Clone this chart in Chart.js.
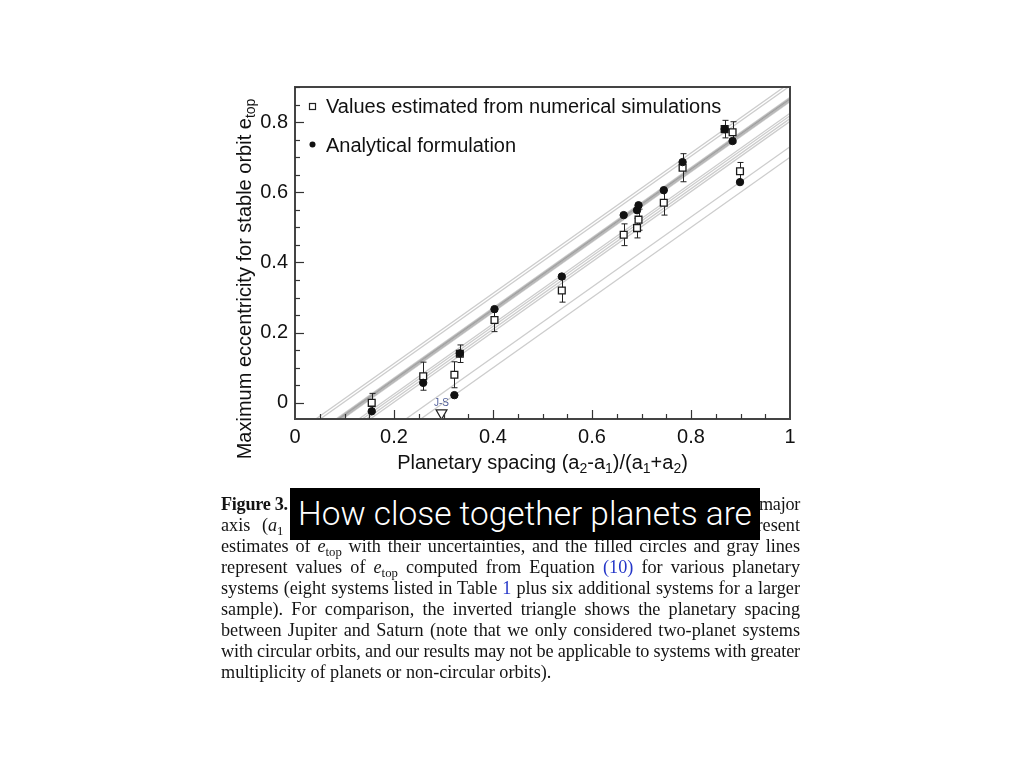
<!DOCTYPE html>
<html><head><meta charset="utf-8">
<script src="https://cdn.jsdelivr.net/npm/chart.js@4.4.1/dist/chart.umd.min.js"></script>
<style>
html,body{margin:0;padding:0;background:#fff;width:1024px;height:768px;overflow:hidden;}
#c{position:absolute;left:0;top:0;}
#cap{position:absolute;left:221px;top:494px;width:579px;font-family:'Liberation Serif','Times New Roman',serif;font-size:18.2px;line-height:21px;color:#141414;}
.ln{white-space:nowrap;display:block;height:21px;}
.ln span.t{display:inline-block;white-space:nowrap;}
.blue{color:#2436c8;}
sub{font-size:0.7em;vertical-align:-0.28em;line-height:0;}
#box{position:absolute;left:290px;top:488px;width:470px;height:52px;background:#000;color:#fff;font-family:Roboto,'Open Sans','Liberation Sans',sans-serif;font-weight:300;font-size:32px;line-height:52px;text-align:center;white-space:nowrap;}
</style></head>
<body>
<canvas id="c" width="1024" height="768"></canvas>
<div id="cap">
<div class="ln"><span class="t"><b>Figure 3.</b> Maximum eccentricity as a function of planetary spacing, by semi major</span></div>
<div class="ln"><span class="t">axis (<i>a</i><sub>1</sub> + <i>a</i><sub>2</sub>) of two planets. Open squares with error bars represent</span></div>
<div class="ln"><span class="t">estimates of <i>e</i><sub>top</sub> with their uncertainties, and the filled circles and gray lines</span></div>
<div class="ln"><span class="t">represent values of <i>e</i><sub>top</sub> computed from Equation <span class="blue">(10)</span> for various planetary</span></div>
<div class="ln"><span class="t">systems (eight systems listed in Table <span class="blue">1</span> plus six additional systems for a larger</span></div>
<div class="ln"><span class="t">sample). For comparison, the inverted triangle shows the planetary spacing</span></div>
<div class="ln"><span class="t">between Jupiter and Saturn (note that we only considered two-planet systems</span></div>
<div class="ln"><span class="t">with circular orbits, and our results may not be applicable to systems with greater</span></div>
<div class="ln last"><span class="t">multiplicity of planets or non-circular orbits).</span></div>
</div>
<div id="box"><span id="boxt">How close together planets are</span></div>
<script>
// ---- data ----
const spacing = [0.155,0.259,0.322,0.333,0.403,0.539,0.664,0.691,0.694,0.745,0.783,0.868,0.884,0.899];
const numericalValues = [0.000,0.076,0.080,0.140,0.236,0.320,0.479,0.498,0.522,0.570,0.670,0.780,0.771,0.660];
const numericalErrors = [0.027,0.040,0.037,0.025,0.033,0.033,0.031,0.028,0.030,0.035,0.040,0.025,0.030,0.025];
const analyticalValues = [-0.024,0.057,0.022,0.141,0.267,0.360,0.535,0.549,0.563,0.606,0.686,0.780,0.746,0.629];
const lineSlope = 1.0;
const lineIntercepts = [-0.175,-0.198,-0.300,-0.190,-0.136,-0.182,-0.129,-0.142,-0.132,-0.139,-0.097,-0.088,-0.134,-0.270];
const lineXRange = [0, 1];
const jupiterSaturnSpacing = [0.296];
const jupiterSaturnMarkerY = [-0.029];
const xTickValues = [0,0.2,0.4,0.6,0.8,1];
const xTickLabels = ['0','0.2','0.4','0.6','0.8','1'];
const yTickValues = [0,0.2,0.4,0.6,0.8];
const yTickLabels = ['0','0.2','0.4','0.6','0.8'];
const legendLabels = ['Values estimated from numerical simulations','Analytical formulation'];

const FONT = "'Liberation Sans', Arial, Helvetica, sans-serif";

const datasets = [];
lineIntercepts.forEach(b => {
  datasets.push({
    label:'line', showLine:true, order:5,
    data: lineXRange.map(x => ({x, y: lineSlope*x + b})),
    borderColor:'rgba(0,0,0,0.2)', borderWidth:1.3, pointRadius:0, fill:false
  });
});
const SQ_INDEX = datasets.length;
datasets.push({
  label:legendLabels[0], order:2,
  data: spacing.map((x,i)=>({x, y:numericalValues[i]})),
  pointStyle:'rect', pointRadius:4.8, borderColor:'#1a1a1a', borderWidth:1.3, backgroundColor:'#fff'
});
datasets.push({
  label:legendLabels[1], order:1,
  data: spacing.map((x,i)=>({x, y:analyticalValues[i]})),
  pointStyle:'circle', pointRadius:3.7, borderColor:'#111', borderWidth:1, backgroundColor:'#111'
});
datasets.push({
  label:'J-S', order:0,
  data: jupiterSaturnSpacing.map((x,i)=>({x, y:jupiterSaturnMarkerY[i]})),
  pointStyle:'triangle', rotation:180, pointRadius:6.3, borderColor:'#222', borderWidth:1.2, backgroundColor:'#fff'
});

const decor = {
  id:'decor',
  beforeDatasetDraw(chart, args){
    if (args.index !== SQ_INDEX) return;
    const {ctx, scales:{x, y}} = chart;
    ctx.save();
    ctx.strokeStyle = '#222'; ctx.lineWidth = 1;
    spacing.forEach((v,i)=>{
      const px = Math.round(x.getPixelForValue(v)) + 0.5;
      const t = y.getPixelForValue(numericalValues[i] + numericalErrors[i]);
      const b = y.getPixelForValue(numericalValues[i] - numericalErrors[i]);
      ctx.beginPath();
      ctx.moveTo(px, t); ctx.lineTo(px, b);
      ctx.moveTo(px-3, t); ctx.lineTo(px+3, t);
      ctx.moveTo(px-3, b); ctx.lineTo(px+3, b);
      ctx.stroke();
    });
    ctx.restore();
  },
  afterDraw(chart){
    const {ctx, chartArea:ca, scales:{x, y}} = chart;
    ctx.save();
    // frame
    ctx.strokeStyle = '#444'; ctx.lineWidth = 2;
    ctx.strokeRect(ca.left, ca.top, ca.right-ca.left, ca.bottom-ca.top);
    // inward ticks
    ctx.strokeStyle = '#333'; ctx.lineWidth = 1.2;
    for (let k=1; k<20; k++){
      const px = Math.round(x.getPixelForValue(k/20))+0.5;
      const len = (k%4===0) ? 9 : 5;
      ctx.beginPath(); ctx.moveTo(px, ca.bottom); ctx.lineTo(px, ca.bottom-len); ctx.stroke();
    }
    for (let k=0; k<=18; k++){
      const py = Math.round(y.getPixelForValue(k/20))+0.5;
      const len = (k%4===0) ? 9 : 5;
      ctx.beginPath(); ctx.moveTo(ca.left, py); ctx.lineTo(ca.left+len, py); ctx.stroke();
    }
    // legend
    ctx.fillStyle = '#111';
    ctx.font = '20px ' + FONT;
    ctx.textBaseline = 'alphabetic'; ctx.textAlign = 'left';
    ctx.strokeStyle = '#222'; ctx.lineWidth = 1.2;
    ctx.strokeRect(309.5, 103.5, 6, 6);
    ctx.fillText(legendLabels[0], 326, 113);
    ctx.beginPath(); ctx.arc(312.5, 144.5, 3, 0, Math.PI*2); ctx.fill();
    ctx.fillText(legendLabels[1], 326, 151.5);
    // J-S label
    ctx.fillStyle = '#52609a';
    ctx.font = '10px ' + FONT;
    ctx.textAlign = 'center';
    ctx.fillText('J-S', x.getPixelForValue(jupiterSaturnSpacing[0]), 406);
    // x title with subscripts
    ctx.fillStyle = '#111';
    const parts = [['Planetary spacing (a',0],['2',1],['-a',0],['1',1],[')/(a',0],['1',1],['+a',0],['2',1],[')',0]];
    const mainF = '20px ' + FONT, subF = '14px ' + FONT;
    let total = 0;
    parts.forEach(p=>{ ctx.font = p[1]?subF:mainF; total += ctx.measureText(p[0]).width; });
    let cx = (ca.left+ca.right)/2 - total/2;
    ctx.textAlign = 'left';
    parts.forEach(p=>{ ctx.font = p[1]?subF:mainF; ctx.fillText(p[0], cx, 469 + (p[1]?4:0)); cx += ctx.measureText(p[0]).width; });
    // y title
    ctx.translate(251, 279); ctx.rotate(-Math.PI/2);
    const yparts = [['Maximum eccentricity for stable orbit e',0],['top',1]];
    total = 0;
    yparts.forEach(p=>{ ctx.font = p[1]?subF:mainF; total += ctx.measureText(p[0]).width; });
    let cy = -total/2;
    yparts.forEach(p=>{ ctx.font = p[1]?subF:mainF; ctx.fillText(p[0], cy, p[1]?4:0); cy += ctx.measureText(p[0]).width; });
    ctx.restore();
  }
};

new Chart(document.getElementById('c'), {
  type:'scatter',
  data:{datasets},
  plugins:[decor],
  options:{
    responsive:false, animation:false,
    layout:{padding:{left:235, right:234, top:87, bottom:299}},
    plugins:{legend:{display:false}, tooltip:{enabled:false}},
    scales:{
      x:{
        type:'linear', min:0, max:1,
        afterFit:s=>{ s.height = 50; },
        afterBuildTicks:s=>{ s.ticks = xTickValues.map(v=>({value:v})); },
        grid:{display:false, drawTicks:false}, border:{display:false},
        ticks:{autoSkip:false, maxRotation:0, padding:6, color:'#111', font:{family:FONT, size:20},
          callback:(v)=>xTickLabels[xTickValues.indexOf(v)]}
      },
      y:{
        type:'linear', min:-0.046, max:0.9,
        afterFit:s=>{ s.width = 60; },
        afterBuildTicks:s=>{ s.ticks = yTickValues.map(v=>({value:v})); },
        grid:{display:false, drawTicks:false}, border:{display:false},
        ticks:{autoSkip:false, padding:7, color:'#111', font:{family:FONT, size:20},
          callback:(v)=>yTickLabels[yTickValues.indexOf(v)]}
      }
    }
  }
});

// caption justification
const W = 579;
document.querySelectorAll('#cap .ln').forEach(ln=>{
  const t = ln.querySelector('.t');
  if (ln.classList.contains('last')) return;
  const w = t.getBoundingClientRect().width;
  const spaces = (t.textContent.match(/ /g)||[]).length;
  if (w < W && spaces) t.style.wordSpacing = ((W - w)/spaces) + 'px';
  else if (w > W) { const n = t.textContent.length; t.style.letterSpacing = ((W - w)/n) + 'px'; }
});
// fit box text width
const bt = document.getElementById('boxt');
const bw = bt.getBoundingClientRect().width;
document.getElementById('box').style.fontSize = (32*454/bw) + 'px';
</script>
</body></html>
